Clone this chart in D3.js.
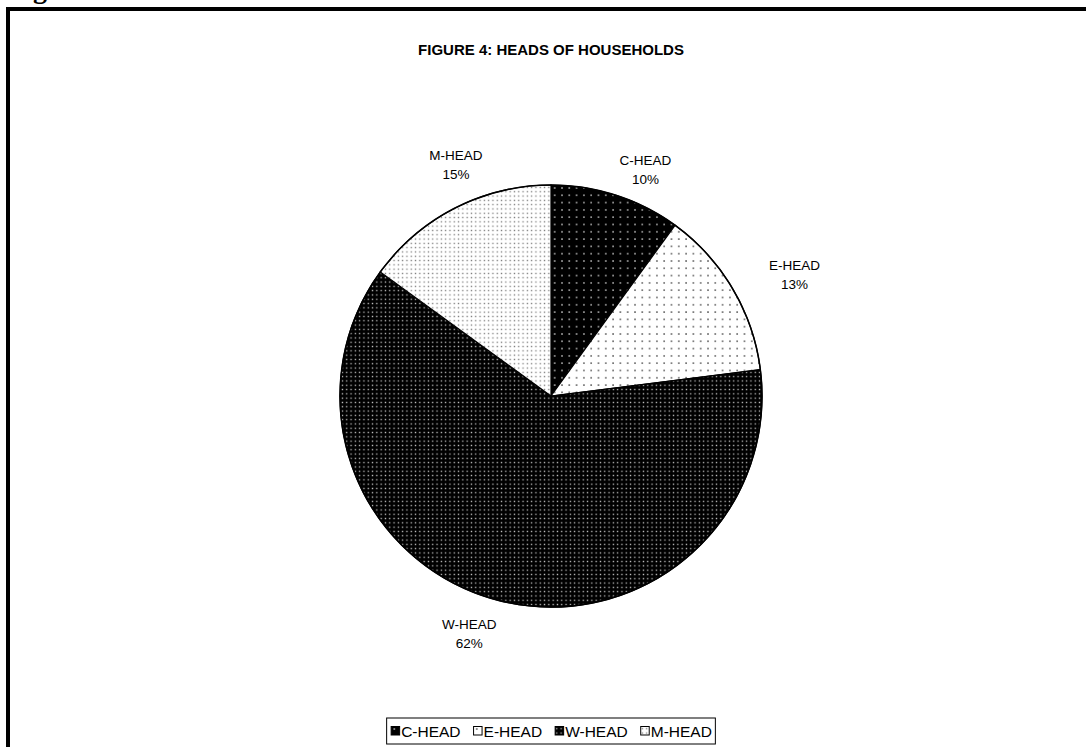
<!DOCTYPE html>
<html>
<head>
<meta charset="utf-8">
<script src="https://cdn.jsdelivr.net/npm/d3@7"></script>
<style>
  body { margin: 0; background: #fff; }
  text { font-family: "Liberation Sans", Arial, sans-serif; fill: #000; }
</style>
</head>
<body>
<div id="chart"></div>
<script>
var w = 1086,
    h = 747;

// chart data
var categories = ["C-HEAD", "E-HEAD", "W-HEAD", "M-HEAD"];
var shares = [10, 13, 62, 15];
var patternIds = ["pat-c", "pat-e", "pat-w", "pat-m"];

var cx = 551, cy = 396, r = 211;

var svg = d3.select("#chart").append("svg")
  .attr("width", w)
  .attr("height", h);

var defs = svg.append("defs");

// dot fills, roughly like the old excel patterns
function dotPattern(id, size, bg, fg, dots, dr) {
  var p = defs.append("pattern")
    .attr("id", id)
    .attr("patternUnits", "userSpaceOnUse")
    .attr("width", size)
    .attr("height", size);
  p.append("rect").attr("width", size).attr("height", size).attr("fill", bg);
  dots.forEach(function(d) {
    p.append("rect")
      .attr("x", d[0]).attr("y", d[1])
      .attr("width", dr).attr("height", dr)
      .attr("fill", fg);
  });
}
dotPattern("pat-c", 7.3, "#000", "#ddd", [[3, 3]], 1.4);
dotPattern("pat-e", 7.3, "#fff", "#333", [[3, 3]], 1.4);
dotPattern("pat-w", 4.3, "#000", "#ccc", [[1.5, 1.5]], 1.3);
dotPattern("pat-m", 4.3, "#fff", "#777", [[1.5, 1.5]], 1.3);

// heading of the source page, cut off by the crop
svg.append("text")
  .attr("x", 8)
  .attr("y", -2)
  .style("font-family", "'Liberation Serif', 'Times New Roman', serif")
  .style("font-weight", "bold")
  .style("font-size", "28px")
  .text("Figure 4: Heads of Households");

svg.append("path")
  .attr("d", "M 8 " + h + " L 8 9 L " + w + " 9")
  .attr("fill", "none")
  .attr("stroke", "#000")
  .attr("stroke-width", 4);

svg.append("text")
  .attr("x", cx)
  .attr("y", 55)
  .attr("text-anchor", "middle")
  .style("font-weight", "bold")
  .style("font-size", "15px")
  .text("FIGURE 4: HEADS OF HOUSEHOLDS");

var pie = d3.pie().sort(null).value(function(d) { return d; });
var arcs = pie(shares);

var arc = d3.arc().innerRadius(0).outerRadius(r);

var g = svg.append("g").attr("transform", "translate(" + cx + "," + cy + ")");

g.selectAll("path.slice")
  .data(arcs)
  .enter().append("path")
  .attr("class", "slice")
  .attr("d", arc)
  .attr("fill", function(d, i) { return "url(#" + patternIds[i] + ")"; })
  .attr("stroke", "#000")
  .attr("stroke-width", 1.2);

g.append("circle")
  .attr("r", r)
  .attr("fill", "none")
  .attr("stroke", "#000")
  .attr("stroke-width", 1.5);

// labels outside the pie, nudged a little clockwise like excel does
var lab = g.selectAll("g.lab")
  .data(arcs)
  .enter().append("g")
  .attr("class", "lab")
  .attr("transform", function(d) {
    var a = (d.startAngle + d.endAngle) / 2;
    var s = Math.sin(a), c = Math.cos(a);
    var rad = 240 + 42 * s * s + 8 * Math.max(0, -c), tan = 20;
    return "translate(" + (rad * s + tan * c) + "," + (-rad * c + tan * s) + ")";
  });

lab.append("text")
  .attr("text-anchor", "middle")
  .attr("y", -5)
  .style("font-size", "13.5px")
  .text(function(d, i) { return categories[i]; });

lab.append("text")
  .attr("text-anchor", "middle")
  .attr("y", 14)
  .style("font-size", "13.5px")
  .text(function(d) { return d3.format(".0f")(d.value) + "%"; });

// legend
var legend = svg.append("g").attr("transform", "translate(0,718)");
var legBox = legend.append("rect")
  .attr("y", 0)
  .attr("height", 26)
  .attr("fill", "#fff")
  .attr("stroke", "#000")
  .attr("stroke-width", 1);

var items = legend.selectAll("g.item")
  .data(categories)
  .enter().append("g")
  .attr("class", "item");

items.append("rect")
  .attr("x", 0.5)
  .attr("y", 8.5)
  .attr("width", 8.5)
  .attr("height", 8.5)
  .attr("fill", function(d, i) { return "url(#" + patternIds[i] + ")"; })
  .attr("stroke", "#000")
  .attr("stroke-width", 1);

items.append("text")
  .attr("x", 10.5)
  .attr("y", 18.5)
  .style("font-size", "15.5px")
  .text(function(d) { return d; });

var widths = [];
items.each(function() { widths.push(this.getBBox().width); });
var gap = 13;
var total = d3.sum(widths) + gap * (widths.length - 1);
var x0 = cx - total / 2;
items.attr("transform", function(d, i) {
  var x = x0 + d3.sum(widths.slice(0, i)) + gap * i;
  return "translate(" + x + ",0)";
});
legBox.attr("x", x0 - 4).attr("width", total + 8);
</script>
</body>
</html>
